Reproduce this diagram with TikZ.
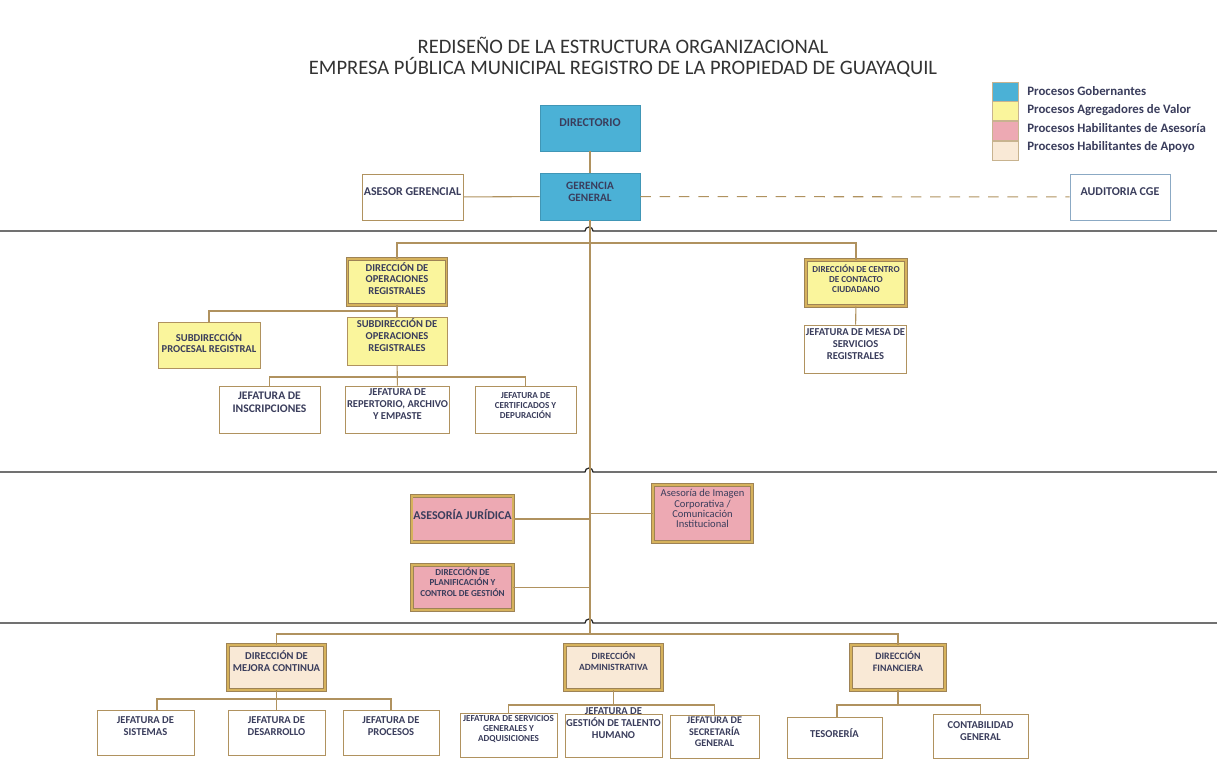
\documentclass[tikz,border=0pt]{standalone}
\usepackage{fontspec}
\setmainfont{Carlito}
\usetikzlibrary{positioning,calc}

\definecolor{gobc}{RGB}{75,177,214}
\definecolor{agrc}{RGB}{250,245,156}
\definecolor{asec}{RGB}{237,169,179}
\definecolor{apoc}{RGB}{249,233,214}
\definecolor{brdc}{RGB}{176,146,95}
\definecolor{goldc}{RGB}{214,178,92}
\definecolor{txtc}{RGB}{58,61,92}
\definecolor{audc}{RGB}{139,169,196}

\tikzset{
  sz/.style 2 args={minimum width={#1*0.02cm},minimum height={#2*0.02cm}},
  unit/.style={draw=brdc,line width=0.5pt,align=center,inner sep=1pt,text=txtc,
    font=\fontsize{6}{6.6}\selectfont\bfseries,sz={100}{46}},
  gobbox/.style={unit,fill=gobc,draw=gobc!85!black,line width=0.3pt},
  agrbox/.style={unit,fill=agrc},
  frame/.style={line width=0.45pt,draw=brdc!90!black,double=goldc,double distance=1.1pt},
  asebox/.style={unit,fill=asec,frame},
  apobox/.style={unit,fill=apoc,frame},
  plainbox/.style={unit,fill=white},
  audbox/.style={unit,fill=white,draw=audc},
  link/.style={draw=brdc,line width=0.6pt},
  sepline/.style={draw=black!85,line width=0.7pt},
  legbox/.style={draw=brdc!70,line width=0.4pt,minimum width=0.52cm,minimum height=0.38cm,inner sep=0pt},
  legtxt/.style={anchor=west,text=txtc,font=\fontsize{7.3}{8}\selectfont\bfseries,inner sep=0pt},
  big/.style={font=\fontsize{6.8}{7.4}\selectfont\bfseries},
  tiny/.style={font=\fontsize{5.2}{5.8}\selectfont\bfseries},
}

\begin{document}
\begin{tikzpicture}[x=0.02cm,y=-0.02cm]
\useasboundingbox[fill=white] (0,0) rectangle (1217,781);

% titulo
\node[text=black!80,font=\fontsize{11.7}{12}\selectfont,align=center] (title) at (623,57.5)
  {REDISEÑO DE LA ESTRUCTURA ORGANIZACIONAL\\EMPRESA PÚBLICA MUNICIPAL REGISTRO DE LA PROPIEDAD DE GUAYAQUIL};

% leyenda
\node[legbox,fill=gobc] (lg1) at (1005,91.5) {};
\node[legbox,fill=agrc,below=0pt of lg1] (lg2) {};
\node[legbox,fill=asec,below=0pt of lg2] (lg3) {};
\node[legbox,fill=apoc,below=0pt of lg3] (lg4) {};
\node[legtxt] at (1027,91) {Procesos Gobernantes};
\node[legtxt] at (1027,110) {Procesos Agregadores de Valor};
\node[legtxt] at (1027,128.5) {Procesos Habilitantes de Asesoría};
\node[legtxt] at (1027,147.5) {Procesos Habilitantes de Apoyo};

% separadores
\draw[sepline] (0,231) -- (585,231) arc[start angle=180,end angle=360,radius=4] -- (1217,231);
\draw[sepline] (0,472) -- (585,472) arc[start angle=180,end angle=360,radius=4] -- (1217,472);
\draw[sepline] (0,623) -- (585,623) arc[start angle=180,end angle=360,radius=4] -- (1217,623);

% procesos gobernantes
\node[gobbox,big,text depth=5.6pt] (dir) at (590,128) {DIRECTORIO};
\node[gobbox,sz={100}{47},font=\fontsize{6.4}{7}\selectfont\bfseries] (gg) at (590,196.5) {GERENCIA\\GENERAL\\[-1.3pt]};
\node[plainbox,big,sz={101}{46},text depth=6.7pt] (ag) at (412.5,197) {ASESOR GERENCIAL};
\node[audbox,big,text depth=6.7pt] (aud) at (1120,197) {AUDITORIA CGE};

% procesos agregadores de valor
\node[agrbox,frame,sz={99}{46}] (dor) at (397,282) {DIRECCIÓN DE\\OPERACIONES\\REGISTRALES\\[-2.6pt]};
\node[agrbox,sz={102}{46}] (spr) at (209,345) {SUBDIRECCIÓN\\PROCESAL REGISTRAL\\[-3.8pt]};
\node[agrbox,sz={100}{47}] (sor) at (397,341.5) {SUBDIRECCIÓN DE\\OPERACIONES\\REGISTRALES\\[0.8pt]};
\node[plainbox,sz={101}{47},font=\fontsize{6.6}{7.6}\selectfont\bfseries] (jins) at (269.5,409.5) {JEFATURA DE\\INSCRIPCIONES\\[0.9pt]};
\node[plainbox,sz={101}{47}] (jrep) at (397.5,409.5) {JEFATURA DE\\REPERTORIO, ARCHIVO\\Y EMPASTE\\[-0.4pt]};
\node[plainbox,sz={101}{47},tiny] (jcer) at (525.5,409.5) {JEFATURA DE\\CERTIFICADOS Y\\DEPURACIÓN\\[-1.3pt]};
\node[agrbox,frame,tiny,sz={100}{46}] (dcc) at (856,283) {DIRECCIÓN DE CENTRO\\DE CONTACTO\\CIUDADANO\\[-0.7pt]};
\node[plainbox,sz={101}{48}] (jms) at (855.5,349) {JEFATURA DE MESA DE\\SERVICIOS\\REGISTRALES\\[-0.9pt]};

% procesos habilitantes de asesoria
\node[asebox,sz={101}{46},big,text depth=5.6pt] (aj) at (462.5,519) {ASESORÍA JURÍDICA};
\node[asebox,sz={99}{57},font=\fontsize{6}{5.8}\selectfont] (aic) at (702.5,513.5) {Asesoría de Imagen\\Corporativa /\\Comunicación\\Institucional\\[-0.1pt]};
\node[asebox,sz={101}{45},tiny] (dpc) at (462.5,587.5) {DIRECCIÓN DE\\PLANIFICACIÓN Y\\CONTROL DE GESTIÓN\\[0.4pt]};

% procesos habilitantes de apoyo
\node[apobox,sz={97}{45}] (dmc) at (276.5,667.5) {DIRECCIÓN DE\\MEJORA CONTINUA\\[0.8pt]};
\node[apobox,sz={97}{45},font=\fontsize{5.4}{6.6}\selectfont\bfseries] (da) at (613.5,667.5) {DIRECCIÓN\\ADMINISTRATIVA\\[0.8pt]};
\node[apobox,sz={94}{45},font=\fontsize{5.6}{6.6}\selectfont\bfseries] (dfi) at (898,667.5) {DIRECCIÓN\\FINANCIERA\\[0.2pt]};
\node[plainbox,sz={97}{45}] (jsis) at (145.5,732.5) {JEFATURA DE\\SISTEMAS\\[0.8pt]};
\node[plainbox,sz={97}{45}] (jdes) at (276.5,732.5) {JEFATURA DE\\DESARROLLO\\[0.8pt]};
\node[plainbox,sz={96}{45}] (jpro) at (391,732.5) {JEFATURA DE\\PROCESOS\\[0.8pt]};
\node[plainbox,sz={97}{43},tiny] (jsga) at (508.5,735.5) {JEFATURA DE SERVICIOS\\GENERALES Y\\ADQUISICIONES\\[2.1pt]};
\node[plainbox,sz={97}{43},label={[align=center,text=txtc,font=\fontsize{6}{6.8}\selectfont\bfseries,yshift=0.25cm]center:JEFATURA DE\\GESTIÓN DE TALENTO\\HUMANO}] (jgth) at (613.5,735.5) {};
\node[plainbox,sz={89}{40},font=\fontsize{5.8}{6.6}\selectfont\bfseries] (jsec) at (714.5,737) {JEFATURA DE\\SECRETARÍA\\GENERAL\\[-0.9pt]};
\node[plainbox,sz={95}{41},text depth=5pt] (tes) at (834.5,737.5) {TESORERÍA};
\node[plainbox,sz={95}{44}] (cg) at (980.5,736) {CONTABILIDAD\\GENERAL\\[-0.9pt]};

% puntos de ramificacion
\coordinate (b1) at (590,243);
\coordinate (b2) at (397,311);
\coordinate (b3) at (397,377);
\coordinate (trunk) at (590,634);
\coordinate (b4) at (276.5,699);
\coordinate (b5) at (613.5,705);
\coordinate (b6) at (898,705);

% conectores
\draw[link] (dir) -- (gg);
\draw[link] (ag) -- (gg);
\draw[link,dash pattern=on 6pt off 5pt] (gg) -- (aud);
\draw[link] (gg.south) -- (trunk);
\draw[link] (dor.north) |- (b1) -| (dcc.north);
\draw[link] (dor) -- (sor);
\draw[link] (b2) -| (spr.north);
\draw[link] (sor) -- (jrep);
\draw[link] (jins.north) |- (b3) -| (jcer.north);
\draw[link] (dcc) -- (jms);
\draw[link] (aj.east) -- (aj.east -| trunk);
\draw[link] (aic.west) -- (aic.west -| trunk);
\draw[link] (dpc.east) -- (dpc.east -| trunk);
\draw[link] (dmc.north) |- (trunk) -| (dfi.north);
\draw[link] (dmc) -- (jdes);
\draw[link] ([xshift=0.23cm]jsis.north) |- (b4) -| (jpro.north);
\draw[link] (da) -- (b5);
\draw[link] (jsga.north) |- (b5) -| (jsec.north);
\draw[link] (dfi) -- (b6);
\draw[link] ([xshift=0.05cm]tes.north) |- (b6) -| (cg.north);
\end{tikzpicture}
\end{document}
